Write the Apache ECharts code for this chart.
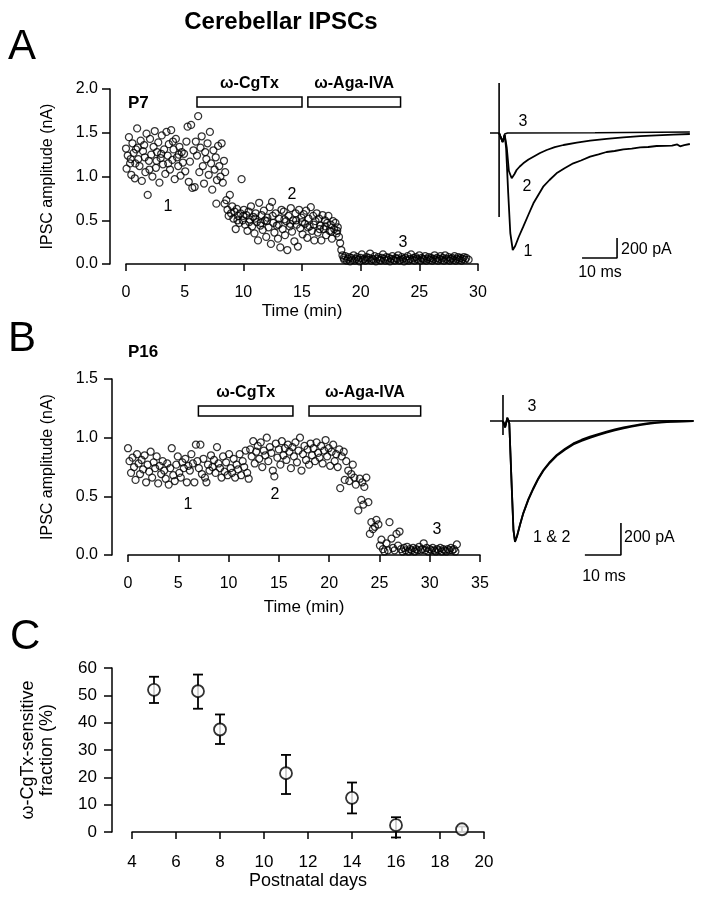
<!DOCTYPE html>
<html><head><meta charset="utf-8">
<script src="https://cdn.jsdelivr.net/npm/echarts@6/dist/echarts.min.js"></script>
<style>html,body{margin:0;padding:0;background:#fff}#chart{width:704px;height:900px}</style>
</head><body><div id="chart"></div>
<script>
// ---------- DATA ----------
const title = 'Cerebellar IPSCs';
const drugNames = ['ω-CgTx', 'ω-Aga-IVA'];
// Panel A (P7): drug application windows (min)
const drugA_start = [6.05, 15.5];
const drugA_end = [15.0, 23.4];
// Panel B (P16)
const drugB_start = [7.0, 18.0];
const drugB_end = [16.4, 29.1];

// Panel A: IPSC amplitude (nA) vs time (min)
const ipscA = [
[0.0,1.32],[0.05,1.09],[0.15,1.24],[0.25,1.45],[0.35,1.15],[0.45,1.02],[0.55,1.38],[0.65,1.27],[0.75,0.98],[0.85,1.31],
[0.95,1.55],[1.05,1.20],[1.15,1.12],[1.25,1.41],[1.35,0.95],[1.45,1.29],[1.55,1.36],[1.65,1.05],[1.75,1.49],[1.85,0.79],
[1.95,1.18],[2.05,1.43],[2.15,1.25],[2.25,1.00],[2.35,1.34],[2.45,1.52],[2.55,1.10],[2.65,1.28],[2.75,1.39],[2.85,0.93],
[2.95,1.21],[3.05,1.47],[3.15,1.14],[3.25,1.31],[3.35,1.03],[3.45,1.51],[3.55,1.24],[3.65,1.37],[3.75,1.08],[3.85,1.53],
[3.95,1.19],[4.05,1.31],[4.15,0.97],[4.25,1.43],[4.35,1.22],[4.45,1.12],[4.55,1.34],[4.65,1.01],[4.75,1.28],[4.85,1.16],
[4.95,1.26],[5.05,1.06],[5.15,1.40],[5.25,1.57],[5.35,0.94],[5.45,1.17],[5.55,1.59],[5.65,0.87],[5.75,1.30],[5.85,0.88],
[0.4,1.20],[1.0,1.33],[2.0,1.08],[3.0,1.26],[4.0,1.40],[4.5,1.25],[2.6,1.18],[3.6,1.15],[1.6,1.22],[0.8,1.15],
[5.95,1.40],[6.05,1.24],[6.15,1.69],[6.25,1.05],[6.35,1.33],[6.45,1.46],[6.55,1.12],[6.65,0.92],[6.75,1.28],[6.85,1.20],
[6.95,1.38],[7.05,1.02],[7.15,1.51],[7.25,1.15],[7.35,0.85],[7.45,1.30],[7.55,1.08],[7.65,1.22],[7.75,0.96],[7.85,1.35],
[7.95,1.12],[8.05,1.00],[8.15,1.38],[8.25,0.93],[8.35,1.18],[8.45,1.05],
[7.7,0.69],[8.4,0.69],[8.55,0.73],[8.65,0.62],[8.75,0.55],[8.85,0.79],[8.95,0.58],
[9.05,0.66],[9.15,0.52],[9.25,0.60],[9.35,0.40],[9.45,0.63],[9.55,0.55],[9.65,0.47],[9.75,0.58],[9.85,0.97],[9.95,0.50],
[10.05,0.62],[10.15,0.45],[10.25,0.56],[10.35,0.38],[10.45,0.60],[10.55,0.51],[10.65,0.66],[10.75,0.43],[10.85,0.54],[10.95,0.35],
[11.05,0.58],[11.15,0.48],[11.25,0.27],[11.35,0.70],[11.45,0.44],[11.55,0.56],[11.65,0.39],[11.75,0.61],[11.85,0.50],[11.95,0.31],
[12.05,0.53],[12.15,0.42],[12.25,0.65],[12.35,0.23],[12.45,0.71],[12.55,0.47],[12.65,0.36],[12.75,0.58],[12.85,0.44],[12.95,0.29],
[13.05,0.52],[13.15,0.19],[13.25,0.62],[13.35,0.40],[13.45,0.60],[13.55,0.33],[13.65,0.49],[13.75,0.16],[13.85,0.55],[13.95,0.43],
[14.05,0.64],[14.15,0.37],[14.25,0.50],[14.35,0.26],[14.45,0.58],[14.55,0.45],[14.65,0.20],[14.75,0.62],[14.85,0.41],[14.95,0.53],
[15.05,0.34],[15.15,0.57],[15.25,0.46],[15.35,0.61],[15.45,0.30],[15.55,0.52],[15.65,0.43],[15.75,0.65],[15.85,0.38],[15.95,0.55],
[16.05,0.27],[16.15,0.49],[16.25,0.58],[16.35,0.36],[16.45,0.52],[16.55,0.44],[16.65,0.27],[16.75,0.56],[16.85,0.40],[16.95,0.50],
[17.05,0.33],[17.15,0.47],[17.25,0.55],[17.35,0.38],[17.45,0.45],[17.55,0.29],[17.65,0.49],[17.75,0.40],[17.85,0.47],[17.95,0.35],
[18.05,0.42],[18.15,0.31],[18.25,0.24],[18.35,0.16],[18.45,0.10],[18.55,0.07],
[9.5,0.50],[10.0,0.55],[10.5,0.48],[11.0,0.52],[11.5,0.47],[12.0,0.49],[12.5,0.55],[13.0,0.45],[13.5,0.51],[14.0,0.46],
[14.5,0.50],[15.0,0.48],[15.5,0.42],[16.0,0.45],[16.5,0.40],[17.0,0.43],[17.5,0.37],[18.0,0.38],
[18.6,0.05],[18.7,0.09],[18.8,0.04],[18.9,0.06],[19.0,0.08],[19.1,0.03],[19.2,0.07],[19.3,0.05],[19.4,0.10],[19.5,0.04],
[19.6,0.06],[19.7,0.08],[19.8,0.05],[19.9,0.03],[20.0,0.07],[20.1,0.11],[20.2,0.05],[20.3,0.06],[20.4,0.04],[20.5,0.08],
[20.6,0.05],[20.7,0.07],[20.8,0.12],[20.9,0.04],[21.0,0.06],[21.1,0.05],[21.2,0.09],[21.3,0.03],[21.4,0.06],[21.5,0.08],
[21.6,0.05],[21.7,0.04],[21.8,0.07],[21.9,0.11],[22.0,0.06],[22.1,0.04],[22.2,0.08],[22.3,0.05],[22.4,0.07],[22.5,0.03],
[22.6,0.06],[22.7,0.09],[22.8,0.05],[22.9,0.04],[23.0,0.07],[23.1,0.06],[23.2,0.10],[23.3,0.04],[23.4,0.05],[23.5,0.08],
[23.6,0.06],[23.7,0.03],[23.8,0.07],[23.9,0.05],[24.0,0.09],[24.1,0.04],[24.2,0.06],[24.3,0.11],[24.4,0.05],[24.5,0.07],
[24.6,0.04],[24.7,0.08],[24.8,0.06],[24.9,0.05],[25.0,0.10],[25.1,0.04],[25.2,0.07],[25.3,0.06],[25.4,0.05],[25.5,0.09],
[25.6,0.04],[25.7,0.06],[25.8,0.08],[25.9,0.05],[26.0,0.07],[26.1,0.04],[26.2,0.06],[26.3,0.10],[26.4,0.05],[26.5,0.07],
[26.6,0.04],[26.7,0.06],[26.8,0.09],[26.9,0.05],[27.0,0.07],[27.1,0.04],[27.2,0.10],[27.3,0.06],[27.4,0.05],[27.5,0.08],
[27.6,0.04],[27.7,0.06],[27.8,0.07],[27.9,0.05],[28.0,0.09],[28.1,0.04],[28.2,0.06],[28.3,0.08],[28.4,0.05],[28.5,0.07],
[28.6,0.04],[28.7,0.06],[28.8,0.08],[28.9,0.05],[29.0,0.07],[29.2,0.05]
];

// Panel B: IPSC amplitude (nA) vs time (min)
const ipscB = [
[0.0,0.91],[0.15,0.80],[0.3,0.70],[0.45,0.83],[0.6,0.75],[0.75,0.64],[0.9,0.86],[1.05,0.78],[1.2,0.69],[1.35,0.81],
[1.5,0.73],[1.65,0.85],[1.8,0.62],[1.95,0.77],[2.1,0.71],[2.25,0.88],[2.4,0.66],[2.55,0.79],[2.7,0.74],[2.85,0.84],
[3.0,0.61],[3.15,0.76],[3.3,0.69],[3.45,0.80],[3.6,0.72],[3.75,0.65],[3.9,0.78],[4.05,0.60],[4.2,0.74],[4.35,0.91],
[4.5,0.68],[4.65,0.63],[4.8,0.77],[4.95,0.84],[5.1,0.70],[5.25,0.66],[5.4,0.79],[5.55,0.74],[5.7,0.82],[5.85,0.62],
[6.0,0.76],[6.15,0.72],[6.3,0.86],[6.45,0.78],[6.6,0.62],[6.75,0.94],[6.9,0.80],[7.05,0.74],[7.2,0.94],[7.35,0.69],
[7.5,0.82],[7.65,0.66],[7.8,0.62],[7.95,0.77],[8.1,0.72],[8.25,0.85],[8.4,0.75],[8.55,0.81],[8.7,0.70],[8.85,0.92],
[9.0,0.78],[9.15,0.74],[9.3,0.66],[9.45,0.84],[9.6,0.71],[9.75,0.79],[9.9,0.68],[10.05,0.86],[10.2,0.74],[10.35,0.70],
[10.5,0.82],[10.65,0.66],[10.8,0.77],[10.95,0.73],[11.1,0.86],[11.25,0.68],[11.4,0.80],[11.55,0.75],[11.7,0.89],[11.85,0.70],
[12.0,0.65],[12.15,0.90],[12.3,0.84],[12.45,0.97],[12.6,0.78],[12.75,0.88],[12.9,0.93],[13.05,0.82],[13.2,0.96],[13.35,0.75],
[13.5,0.89],[13.65,0.85],[13.8,1.00],[13.95,0.80],[14.1,0.92],[14.25,0.87],[14.4,0.72],[14.55,0.67],[14.7,0.95],[14.85,0.83],
[15.0,0.90],[15.15,0.77],[15.3,0.97],[15.45,0.85],[15.6,0.91],[15.75,0.81],[15.9,0.94],[16.05,0.88],[16.2,0.74],[16.35,0.92],
[16.5,0.84],[16.65,0.96],[16.8,0.79],[16.95,0.89],[17.1,1.00],[17.25,0.72],[17.4,0.86],[17.55,0.93],[17.7,0.81],[17.85,0.90],
[18.0,0.77],[18.15,0.95],[18.3,0.85],[18.45,0.91],[18.6,0.80],[18.75,0.96],[18.9,0.87],[19.05,0.83],[19.2,0.93],[19.35,0.78],
[19.5,0.89],[19.65,0.98],[19.8,0.84],[19.95,0.91],[20.1,0.76],[20.25,0.88],[20.4,0.94],[20.55,0.80],[20.7,0.86],[20.85,0.75],
[21.0,0.90],[21.1,0.57],[21.25,0.84],[21.45,0.88],[21.55,0.64],[21.7,0.80],[21.9,0.72],[22.0,0.63],[22.2,0.69],[22.35,0.77],
[22.5,0.66],[22.65,0.60],[22.9,0.38],[23.05,0.65],[23.2,0.47],[23.3,0.62],[23.4,0.43],[23.5,0.58],[23.7,0.66],[23.9,0.45],
[24.05,0.18],[24.2,0.28],[24.35,0.22],[24.55,0.24],[24.7,0.30],[24.9,0.26],[25.05,0.08],[25.2,0.13],[25.35,0.05],[25.5,0.03],
[25.7,0.10],[25.85,0.04],[26.0,0.28],[26.2,0.14],[26.35,0.06],[26.5,0.04],[26.7,0.18],[26.85,0.08],[27.0,0.20],[27.15,0.05],
[27.3,0.03],[27.45,0.06],[27.6,0.04],[27.75,0.07],[27.9,0.03],[28.05,0.05],[28.2,0.04],[28.35,0.06],[28.5,0.03],[28.65,0.05],
[28.8,0.04],[28.95,0.07],[29.1,0.04],[29.25,0.05],[29.4,0.10],[29.55,0.04],[29.7,0.06],[29.85,0.03],[30.0,0.05],[30.15,0.04],
[30.3,0.06],[30.45,0.04],[30.6,0.03],[30.75,0.05],[30.9,0.04],[31.05,0.06],[31.2,0.03],[31.35,0.05],[31.5,0.04],[31.65,0.03],
[31.8,0.05],[31.95,0.04],[32.1,0.06],[32.25,0.04],[32.4,0.05],[32.55,0.03],[32.7,0.09]
];

// Example current traces (time ms, current pA)
const artifactA = [[0,0],[2.6,0],[2.6,500],[2.6,-840],[2.6,0]];
const traceA1 = [[2.6,0],[3.0,-20],[3.6,-90],[4.2,-20],[4.6,-150],[5.2,-600],[5.8,-1000],[6.5,-1170],[7.2,-1130],[8.2,-1040],[9.5,-937],[11.0,-815],[12.4,-703],[13.8,-620],[15.2,-537],[17.0,-470],[19.0,-403],[21.3,-352],[23.8,-303],[26.0,-275],[28.6,-237],[31.0,-214],[33.3,-190],[35.6,-180],[38.1,-163],[40.5,-157],[42.9,-143],[45.2,-140],[47.6,-130],[50.0,-129],[52.0,-127],[53.5,-114],[54.3,-133],[55.5,-121],[57.1,-110]];
const traceA2 = [[2.6,0],[3.0,-20],[3.6,-90],[4.2,-20],[4.8,-150],[5.4,-380],[6.2,-453],[7.0,-410],[7.6,-370],[8.5,-335],[9.5,-303],[11.0,-265],[12.4,-237],[14.3,-200],[16.2,-170],[18.5,-142],[21.0,-120],[24.8,-97],[28.6,-77],[33.3,-58],[38.1,-43],[42.9,-32],[47.6,-23],[52.4,-16],[57.1,-10]];
const traceA3 = [[2.6,0],[3.0,-20],[3.6,-90],[4.2,-10],[5.0,0],[30.0,3],[57.1,10]];
const scaleBarA = [[26.3,-1250],[36.3,-1250],[36.3,-1050]];   // 10 ms, 200 pA

const artifactB = [[0,0],[3.6,0],[3.6,162],[3.6,-87],[3.6,0]];
const traceB1 = [[3.6,0],[4.2,-40],[4.8,20],[5.35,-15],[6.0,-400],[6.5,-680],[6.93,-756],[7.5,-720],[8.3,-650],[9.2,-577],[10.6,-490],[12.0,-420],[13.4,-358],[14.8,-306],[16.6,-255],[18.5,-212],[20.8,-173],[23.1,-140],[25.4,-117],[27.7,-98],[30.0,-82],[32.3,-67],[34.6,-53],[37.0,-40],[39.3,-30],[41.6,-21],[43.9,-14],[46.2,-8],[50.0,-3],[56.4,0]];
const traceB2 = [[3.6,0],[4.2,-40],[4.8,20],[5.35,-15],[6.0,-400],[6.5,-680],[6.93,-752],[7.5,-718],[8.3,-650],[9.2,-580],[10.6,-495],[12.0,-425],[13.4,-362],[14.8,-311],[16.6,-261],[18.5,-218],[20.8,-180],[23.1,-147],[25.4,-124],[27.7,-105],[30.0,-88],[32.3,-73],[34.6,-59],[37.0,-46],[39.3,-35],[41.6,-26],[43.9,-18],[46.2,-12],[50.0,-5],[56.4,0]];
const traceB3 = [[3.6,0],[4.2,-30],[4.8,10],[5.4,0],[56.4,2]];
const scaleBarB = [[26.3,-837.5],[36.3,-837.5],[36.3,-637.5]]; // 10 ms, 200 pA

// Panel C
const postnatalDays = [5, 7, 8, 11, 14, 16, 19];
const cgtxFraction = [52, 51.5, 37.5, 21.5, 12.5, 2.5, 1];
const errLow = [47.2, 45.1, 32.2, 13.9, 6.8, -2, 0];
const errHigh = [56.8, 57.6, 43, 28.2, 18.1, 5.4, 2];

// ---------- CHART ----------
const FONT = "'Liberation Sans', Arial, Helvetica, sans-serif";
const chart = echarts.init(document.getElementById('chart'), null, {renderer: 'canvas', width: 704, height: 900});

const axisLineStyle = {show: true, lineStyle: {color: '#000', width: 1.5}};
function xVal(gi, min, max, interval, name, fs, nameGap, labelMargin) {
  return {type: 'value', gridIndex: gi, min, max, interval,
    axisLine: Object.assign({onZero: false}, axisLineStyle),
    axisTick: {show: true, inside: false, length: 7, lineStyle: {color: '#000', width: 1.5}},
    axisLabel: {color: '#000', fontSize: fs, fontFamily: FONT, margin: labelMargin},
    splitLine: {show: false},
    name, nameLocation: 'middle', nameGap,
    nameTextStyle: {color: '#000', fontSize: fs + 1, fontFamily: FONT}};
}
function yVal(gi, min, max, interval, name, fs, nameGap, labelMargin, offset, fmt, nfs, lh) {
  return {type: 'value', gridIndex: gi, min, max, interval, offset,
    axisLine: Object.assign({onZero: false}, axisLineStyle),
    axisTick: {show: true, inside: false, length: 8, lineStyle: {color: '#000', width: 1.5}},
    axisLabel: {color: '#000', fontSize: fs, fontFamily: FONT, margin: labelMargin, formatter: fmt},
    splitLine: {show: false},
    name, nameLocation: 'middle', nameGap, nameRotate: 90,
    nameTextStyle: {color: '#000', fontSize: nfs, fontFamily: FONT, lineHeight: lh || nfs + 2}};
}
function hidden(gi, min, max) {
  return {type: 'value', gridIndex: gi, min, max, show: false, splitLine: {show: false}};
}

function drugRender(offset, gap) {
  return function (params, api) {
    const x0 = api.coord([api.value(0), 0])[0];
    const x1 = api.coord([api.value(1), 0])[0];
    const top = params.coordSys.y + offset;
    return {type: 'group', children: [
      {type: 'rect', shape: {x: x0, y: top, width: x1 - x0, height: 10},
       style: {fill: '#fff', stroke: '#000', lineWidth: 1.5}},
      {type: 'text', style: {text: drugNames[params.dataIndex], x: (x0 + x1) / 2, y: top - gap,
        align: 'center', verticalAlign: 'middle', textAlign: 'center', textVerticalAlign: 'middle',
        fontSize: 16, fontWeight: 'bold', fontFamily: FONT, fill: '#000'}}
    ]};
  };
}
function errRender(params, api) {
  const x = api.coord([api.value(0), api.value(1)])[0];
  const yl = api.coord([api.value(0), api.value(2)])[1];
  const yh = api.coord([api.value(0), api.value(3)])[1];
  const st = {stroke: '#000', lineWidth: 1.8};
  return {type: 'group', children: [
    {type: 'line', shape: {x1: x, y1: yl, x2: x, y2: yh}, style: st},
    {type: 'line', shape: {x1: x - 5, y1: yh, x2: x + 5, y2: yh}, style: st},
    {type: 'line', shape: {x1: x - 5, y1: yl, x2: x + 5, y2: yl}, style: st}
  ]};
}
function lineSeries(xi, data, w) {
  return {type: 'line', xAxisIndex: xi, yAxisIndex: xi, data, symbol: 'none', silent: true,
    lineStyle: {color: '#000', width: w || 1.6}, z: 4};
}
const openCircle = {color: 'rgba(255,255,255,0)', borderColor: '#000', borderWidth: 1.25};

function txt(text, x, y, size, opts) {
  opts = opts || {};
  return {type: 'text', x, y, silent: true, style: {text, fontSize: size, fontFamily: FONT,
    fontWeight: opts.bold ? 'bold' : 'normal', fill: '#000',
    align: opts.align || 'center', verticalAlign: 'middle',
    textAlign: opts.align || 'center', textVerticalAlign: 'middle'}};
}

const option = {
  animation: false,
  backgroundColor: '#fff',
  textStyle: {fontFamily: FONT},
  grid: [
    {left: 126, top: 89, width: 352, height: 175},
    {left: 490, top: 80, width: 210, height: 180},
    {left: 128, top: 379, width: 352, height: 176},
    {left: 490, top: 389, width: 202, height: 172},
    {left: 132, top: 668, width: 352, height: 164}
  ],
  xAxis: [
    xVal(0, 0, 30, 5, 'Time (min)', 16, 39, 21),
    hidden(1, 0, 60),
    xVal(2, 0, 35, 5, 'Time (min)', 16, 44, 21),
    hidden(3, 0, 56),
    xVal(4, 4, 20, 2, 'Postnatal days', 17, 40, 22)
  ],
  yAxis: [
    yVal(0, 0, 2, 0.5, 'IPSC amplitude (nA)', 16, 53, 12, 16, v => v.toFixed(1), 16),
    hidden(1, -1270, 530),
    yVal(2, 0, 1.5, 0.5, 'IPSC amplitude (nA)', 16, 55, 14, 16, v => v.toFixed(1), 16),
    hidden(3, -875, 200),
    yVal(4, 0, 60, 10, 'ω-CgTx-sensitive\nfraction (%)', 17, 55, 15, 20, v => String(v), 18, 19)
  ],
  series: [
    {type: 'scatter', xAxisIndex: 0, yAxisIndex: 0, data: ipscA, symbol: 'circle', symbolSize: 7,
     itemStyle: openCircle, silent: true, z: 3},
    {type: 'custom', xAxisIndex: 0, yAxisIndex: 0, renderItem: drugRender(8, 13), clip: false, silent: true,
     data: drugA_start.map((s, i) => [s, drugA_end[i]]), z: 5},
    lineSeries(1, artifactA, 1.6),
    lineSeries(1, traceA3, 1.6),
    lineSeries(1, traceA2, 1.8),
    lineSeries(1, traceA1, 1.8),
    lineSeries(1, scaleBarA, 1.6),

    {type: 'scatter', xAxisIndex: 2, yAxisIndex: 2, data: ipscB, symbol: 'circle', symbolSize: 7,
     itemStyle: openCircle, silent: true, z: 3},
    {type: 'custom', xAxisIndex: 2, yAxisIndex: 2, renderItem: drugRender(27, 13), clip: false, silent: true,
     data: drugB_start.map((s, i) => [s, drugB_end[i]]), z: 5},
    lineSeries(3, artifactB, 1.6),
    lineSeries(3, traceB3, 1.6),
    lineSeries(3, traceB1, 1.8),
    lineSeries(3, traceB2, 1.8),
    lineSeries(3, scaleBarB, 1.6),

    {type: 'custom', xAxisIndex: 4, yAxisIndex: 4, renderItem: errRender, clip: false, silent: true,
     data: postnatalDays.map((d, i) => [d, cgtxFraction[i], errLow[i], errHigh[i]]), z: 4},
    {type: 'scatter', xAxisIndex: 4, yAxisIndex: 4, data: postnatalDays.map((d, i) => [d, cgtxFraction[i]]),
     symbol: 'circle', symbolSize: 12, itemStyle: {color: '#fff', borderColor: '#000', borderWidth: 1.8},
     silent: true, z: 6}
  ],
  graphic: [
    txt(title, 281, 22, 24, {bold: true}),
    txt('A', 8, 47, 42, {align: 'left'}),
    txt('B', 8, 339, 42, {align: 'left'}),
    txt('C', 10, 637, 42, {align: 'left'}),
    txt('P7', 128, 103, 17, {bold: true, align: 'left'}),
    txt('P16', 128, 352, 17, {bold: true, align: 'left'}),
    txt('1', 168, 207, 16), txt('2', 292, 195, 16), txt('3', 403, 243, 16),
    txt('1', 188, 505, 16), txt('2', 275, 495, 16), txt('3', 437, 530, 16),
    txt('3', 523, 122, 16), txt('2', 527, 187, 16), txt('1', 528, 252, 16),
    txt('200 pA', 621, 250, 16, {align: 'left'}), txt('10 ms', 600, 273, 16),
    txt('3', 532, 407, 16), txt('1 & 2', 533, 538, 16, {align: 'left'}),
    txt('200 pA', 624, 538, 16, {align: 'left'}), txt('10 ms', 604, 577, 16)
  ]
};
chart.setOption(option);
</script></body></html>
